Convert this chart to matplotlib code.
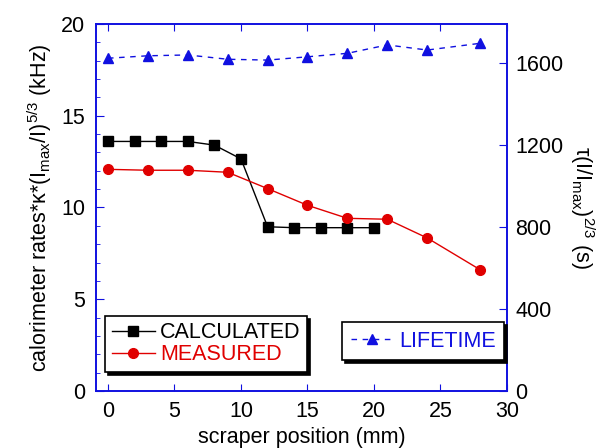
import matplotlib
matplotlib.use('Agg')
import matplotlib.pyplot as plt
from matplotlib.ticker import MultipleLocator

plt.rcParams['font.family'] = ['Liberation Sans', 'DejaVu Sans']
plt.rcParams['mathtext.fontset'] = 'custom'
plt.rcParams['mathtext.rm'] = 'Liberation Sans'
plt.rcParams['mathtext.it'] = 'Liberation Sans'

# data
x_calc = [0, 2, 4, 6, 8, 10, 12, 14, 16, 18, 20]
calc = [13.6, 13.6, 13.6, 13.6, 13.4, 12.65, 8.95, 8.9, 8.9, 8.9, 8.9]

x_meas = [0, 3, 6, 9, 12, 15, 18, 21, 24, 28]
meas = [12.08, 12.03, 12.03, 11.92, 11.03, 10.12, 9.41, 9.36, 8.34, 6.6]

x_life = [0, 3, 6, 9, 12, 15, 18, 21, 24, 28]
life = [1623, 1635, 1639, 1618, 1614, 1630, 1647, 1688, 1663, 1696]

blue = '#1010e0'
fs = 15.5

fig = plt.figure(figsize=(6.13, 4.48), dpi=100)
ax = fig.add_axes([96/613, 1-391/448, 411/613, 367/448])
ax2 = ax.twinx()

l1, = ax.plot(x_calc, calc, color='black', lw=1, marker='s', ms=6.5, label='CALCULATED')
l2, = ax.plot(x_meas, meas, color='#e00000', lw=1, marker='o', ms=7, label='MEASURED')
l3, = ax2.plot(x_life, life, color=blue, lw=1, ls=(0, (4, 4)), marker='^', ms=6.5,
               label='LIFETIME')

ax.set_xlim(-0.9, 30)
ax.set_ylim(0, 20)
ax2.set_ylim(0, 1790)

ax.xaxis.set_major_locator(MultipleLocator(5))
ax.yaxis.set_major_locator(MultipleLocator(5))
ax.yaxis.set_minor_locator(MultipleLocator(1))
ax2.yaxis.set_major_locator(MultipleLocator(400))

for a in (ax, ax2):
    for s in a.spines.values():
        s.set_color(blue)
        s.set_linewidth(1.2)
ax.tick_params(axis='x', which='both', direction='in', top=True, color=blue,
               labelsize=fs, length=5, pad=7)
ax.tick_params(axis='y', which='major', direction='in', color=blue, labelsize=fs,
               length=6, pad=8)
ax.tick_params(axis='y', which='minor', direction='in', color=blue, length=3)
ax2.tick_params(axis='y', which='major', direction='in', color=blue, labelsize=fs,
                length=6, pad=6)

ax.set_xlabel('scraper position (mm)', fontsize=fs, labelpad=4)
ax.set_ylabel(r'calorimeter rates*$\kappa$*(I$_{\mathregular{max}}$/I)$^{\mathregular{5/3}}$ (kHz)',
              fontsize=fs, labelpad=5)
ax2.set_ylabel(r'$\tau$(I/I$_{\mathregular{max}}$)$^{\mathregular{2/3}}$ (s)',
               fontsize=fs, rotation=270, labelpad=24)

shadow = {'facecolor': 'black', 'edgecolor': 'black', 'alpha': 1}
leg1 = ax.legend(handles=[l1, l2], loc='lower left', bbox_to_anchor=(0.022, 0.052),
                 borderaxespad=0, fancybox=False, shadow=shadow, framealpha=1,
                 edgecolor='black', fontsize=fs, numpoints=1, handlelength=2.0,
                 handletextpad=0.25, labelspacing=0.05, borderpad=0.3)
leg1.get_frame().set_linewidth(1.2)
for t, c in zip(leg1.get_texts(), ['black', '#e00000']):
    t.set_color(c)

leg2 = ax2.legend(handles=[l3], loc='lower left', bbox_to_anchor=(0.599, 0.084),
                  borderaxespad=0, fancybox=False, shadow=shadow, framealpha=1,
                  edgecolor='black', fontsize=fs, numpoints=1, handlelength=2.0,
                  handletextpad=0.25, borderpad=0.4)
leg2.get_frame().set_linewidth(1.2)
leg2.get_texts()[0].set_color(blue)

fig.savefig('out.png', dpi=100)
